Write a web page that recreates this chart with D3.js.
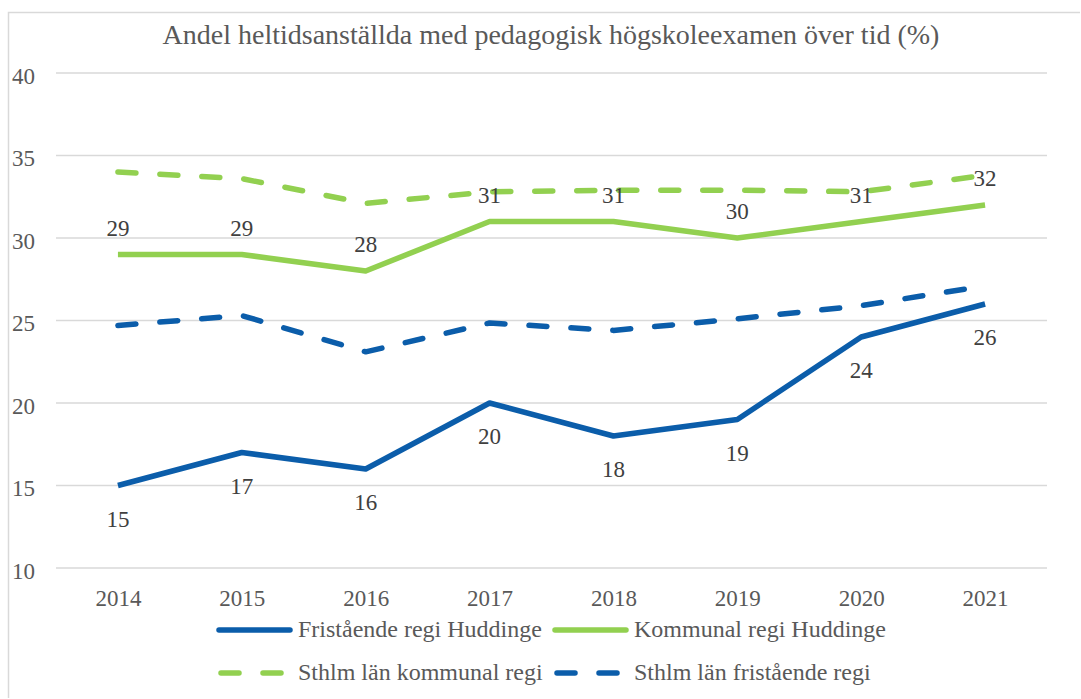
<!DOCTYPE html>
<html>
<head>
<meta charset="utf-8">
<script src="https://cdn.jsdelivr.net/npm/d3@7"></script>
</head>
<body style="margin:0">
<div id="chart"></div>
<script>
var years = ['2014', '2015', '2016', '2017', '2018', '2019', '2020', '2021'];
var friHuddinge = [15, 17, 16, 20, 18, 19, 24, 26];
var komHuddinge = [29, 29, 28, 31, 31, 30, 31, 32];
var sthlmKom = [34.0, 33.6, 32.1, 32.8, 32.9, 32.9, 32.8, 33.8];
var sthlmFri = [24.7, 25.3, 23.1, 24.85, 24.4, 25.1, 25.9, 27.1];
var yTicks = [10, 15, 20, 25, 30, 35, 40];

var blue = '#0B5DAA', green = '#92D050';
var serif = '"Liberation Serif", serif';

var series = [
  { name: 'Fristående regi Huddinge', values: friHuddinge, color: blue, dash: null, labels: 'below' },
  { name: 'Kommunal regi Huddinge', values: komHuddinge, color: green, dash: null, labels: 'above' },
  { name: 'Sthlm län kommunal regi', values: sthlmKom, color: green, dash: '18,24', labels: null },
  { name: 'Sthlm län fristående regi', values: sthlmFri, color: blue, dash: '18,24', labels: null }
];

var svg = d3.select('#chart').append('svg').attr('width', 1080).attr('height', 698);

// outer chart border
svg.append('rect')
  .attr('x', 8.5).attr('y', 12.5)
  .attr('width', 1090).attr('height', 700)
  .attr('fill', 'none').attr('stroke', '#D9D9D9').attr('stroke-width', 1.5);

svg.append('text')
  .attr('x', 551).attr('y', 44)
  .attr('text-anchor', 'middle')
  .attr('font-family', serif)
  .attr('font-size', 28)
  .attr('fill', '#595959')
  .text('Andel heltidsanställda med pedagogisk högskoleexamen över tid (%)');

var x = d3.scalePoint().domain(years).range([56, 1047]).padding(0.5);
var y = d3.scaleLinear().domain([10, 40]).range([568, 73]);

// gridlines
svg.append('g').selectAll('line')
  .data(yTicks).join('line')
  .attr('x1', 56).attr('x2', 1047)
  .attr('y1', function(d) { return y(d); })
  .attr('y2', function(d) { return y(d); })
  .attr('stroke', '#D9D9D9').attr('stroke-width', 1.5);

var yAxis = svg.append('g')
  .attr('transform', 'translate(35,0)')
  .call(d3.axisLeft(y).tickValues(yTicks).tickSize(0).tickPadding(0))
  .attr('font-family', serif)
  .attr('font-size', 23);
yAxis.select('.domain').remove();
yAxis.selectAll('text')
  .attr('fill', '#595959')
  .attr('dy', 10);

var xAxis = svg.append('g')
  .attr('transform', 'translate(0,568)')
  .call(d3.axisBottom(x).tickSize(0).tickPadding(0))
  .attr('font-family', serif)
  .attr('font-size', 23);
xAxis.select('.domain').remove();
xAxis.selectAll('text')
  .attr('fill', '#595959')
  .attr('y', 38)
  .attr('dy', 0);

var line = d3.line()
  .x(function(d, i) { return x(years[i]); })
  .y(function(d) { return y(d); });

// draw back to front: dashed first
[2, 3, 1, 0].forEach(function(k) {
  var s = series[k];
  svg.append('path')
    .datum(s.values)
    .attr('d', line)
    .attr('fill', 'none')
    .attr('stroke', s.color)
    .attr('stroke-width', 5.5)
    .attr('stroke-linejoin', 'round')
    .attr('stroke-linecap', s.dash ? 'round' : 'butt')
    .attr('stroke-dasharray', s.dash);
});

// data labels
series.forEach(function(s) {
  if (!s.labels) return;
  svg.append('g').selectAll('text')
    .data(s.values).join('text')
    .attr('x', function(d, i) { return x(years[i]); })
    .attr('y', function(d) { return s.labels === 'above' ? y(d) - 19 : y(d) + 41; })
    .attr('text-anchor', 'middle')
    .attr('font-family', serif)
    .attr('font-size', 23)
    .attr('fill', '#404040')
    .text(function(d) { return d; });
});

// legend
var legendPos = [[219, 630], [555, 630], [219, 673], [555, 673]];
series.forEach(function(s, i) {
  var p = legendPos[i];
  var g = svg.append('g').attr('transform', 'translate(' + p[0] + ',' + p[1] + ')');
  g.append('line')
    .attr('x1', s.dash ? 2 : 0).attr('x2', s.dash ? 66 : 71)
    .attr('y1', 0).attr('y2', 0)
    .attr('stroke', s.color).attr('stroke-width', 5.5)
    .attr('stroke-linecap', 'round')
    .attr('stroke-dasharray', s.dash ? '18,24' : null);
  g.append('text')
    .attr('x', 79).attr('y', 7)
    .attr('font-family', serif)
    .attr('font-size', 24)
    .attr('fill', '#595959')
    .text(s.name);
});
</script>
</body>
</html>
